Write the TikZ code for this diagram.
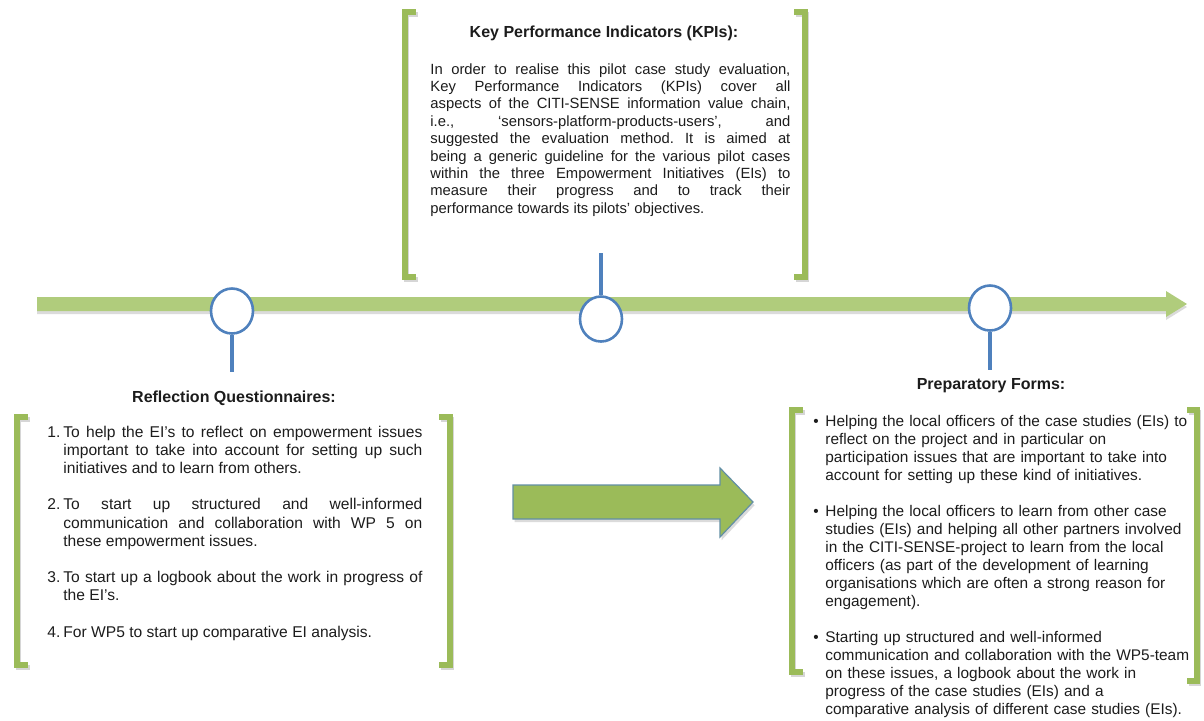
\documentclass[tikz,border=0pt]{standalone}
\usepackage{fontspec}
\setmainfont{Liberation Sans}
\usetikzlibrary{shapes.geometric}

\definecolor{barGreen}{RGB}{176,204,124}
\definecolor{brGreen}{RGB}{155,187,89}
\definecolor{pinBlue}{RGB}{79,129,189}
\definecolor{inkGrey}{RGB}{28,28,28}

% paragraph set-up used inside the text blocks
\newcommand{\blocksetup}[1]{\frenchspacing\hyphenpenalty=10000\exhyphenpenalty=10000\setlength{\parskip}{#1}}

\begin{document}
\begin{tikzpicture}[x=0.5pt,y=-0.5pt,
  bracket/.style={draw=brGreen, line width=2.6pt,
    preaction={draw=black!16, line width=2.6pt, transform canvas={xshift=0.8pt, yshift=-1.4pt}}},
  pin/.style={draw=pinBlue, line width=2pt},
  milestone/.style={ellipse, draw=pinBlue, line width=1.3pt, fill=white,
    minimum width=21pt, minimum height=22.5pt, inner sep=0pt},
  heading/.style={font=\fontsize{8}{9.6}\selectfont\bfseries, text=inkGrey, inner sep=0pt, anchor=base},
  kpitext/.style={font=\fontsize{7.4}{8.7}\selectfont, text=inkGrey, text width=180pt, align=justify, inner sep=0pt, anchor=base west},
  listtext/.style={font=\fontsize{7.8}{9.1}\selectfont, text=inkGrey, text width=187.5pt, align=justify, inner sep=0pt, anchor=base west},
  bullettext/.style={font=\fontsize{7.7}{9}\selectfont, text=inkGrey, text width=194pt, inner sep=0pt, anchor=base west},
]
\useasboundingbox (0,0) rectangle (1204,720);

% timeline bar with its head
\fill[barGreen, preaction={fill=black!14, transform canvas={yshift=-1.5pt}}]
  (37,297) -- (1166,297) -- (1166,291) -- (1187,304) -- (1166,317) -- (1166,311) -- (37,311) -- cycle;

% milestones on the timeline
\node[milestone] (c1) at (232,311) {};
\node[milestone] (c2) at (601,319) {};
\node[milestone] (c3) at (990,308) {};

\coordinate (p1) at (232,372);
\coordinate (p2) at (601,253);
\coordinate (p3) at (990,370);
\draw[pin] (c1.south) -- (p1);
\draw[pin] (c2.north) -- (p2);
\draw[pin] (c3.south) -- (p3);

% brackets
\draw[bracket] (416,12) -- (405,12) -- (405,277) -- (416,277);
\draw[bracket] (794,12) -- (805,12) -- (805,277) -- (794,277);
\draw[bracket] (28,417) -- (17,417) -- (17,665) -- (28,665);
\draw[bracket] (439,417) -- (450,417) -- (450,665) -- (439,665);
\draw[bracket] (803,410) -- (792,410) -- (792,672) -- (803,672);
\draw[bracket] (1187,410) -- (1197,410) -- (1197,681) -- (1187,681);

% block arrow between the two lower boxes
\filldraw[fill=brGreen, draw=pinBlue!75!brGreen, line width=0.6pt,
  preaction={fill=black!14, transform canvas={xshift=0.8pt, yshift=-1.6pt}}]
  (513,485) -- (720,485) -- (720,468) -- (753,502) -- (720,537) -- (720,519) -- (513,519) -- cycle;

% Key Performance Indicators
\node[heading] (kpiT) at (604,37) {Key Performance Indicators (KPIs):};
\node[kpitext] (kpiB) at (430,74) {\blocksetup{0pt}%
In order to realise this pilot case study evaluation,\linebreak
Key Performance Indicators (KPIs) cover all\linebreak
aspects of the CITI-SENSE information value chain,\linebreak
i.e., ‘sensors-platform-products-users’, and\linebreak
suggested the evaluation method. It is aimed at\linebreak
being a generic guideline for the various pilot cases\linebreak
within the three Empowerment Initiatives (EIs) to\linebreak
measure their progress and to track their\linebreak
performance towards its pilots’ objectives.\par};

% Reflection Questionnaires
\node[heading] (rqT) at (234,402) {Reflection Questionnaires:};
\node[listtext] (rqB) at (47,437) {\blocksetup{9.1pt}%
\hangindent=8pt\hangafter=1\makebox[8pt][l]{1.}To help the EI’s to reflect on empowerment issues\linebreak
important to take into account for setting up such\linebreak
initiatives and to learn from others.\par
\hangindent=8pt\hangafter=1\makebox[8pt][l]{2.}To start up structured and well-informed\linebreak
communication and collaboration with WP 5 on\linebreak
these empowerment issues.\par
\hangindent=8pt\hangafter=1\makebox[8pt][l]{3.}To start up a logbook about the work in progress of\linebreak
the EI’s.\par
\hangindent=8pt\hangafter=1\makebox[8pt][l]{4.}For WP5 to start up comparative EI analysis.\par};

% Preparatory Forms
\node[heading] (pfT) at (991,389) {Preparatory Forms:};
\node[bullettext] (pfB) at (813,426) {\blocksetup{9pt}%
\hangindent=6pt\hangafter=1\makebox[6pt][l]{•}Helping the local officers of the case studies (EIs) to\newline
reflect on the project and in particular on\newline
participation issues that are important to take into\newline
account for setting up these kind of initiatives.\par
\hangindent=6pt\hangafter=1\makebox[6pt][l]{•}Helping the local officers to learn from other case\newline
studies (EIs) and helping all other partners involved\newline
in the CITI-SENSE-project to learn from the local\newline
officers (as part of the development of learning\newline
organisations which are often a strong reason for\newline
engagement).\par
\hangindent=6pt\hangafter=1\makebox[6pt][l]{•}Starting up structured and well-informed\newline
communication and collaboration with the WP5-team\newline
on these issues, a logbook about the work in\newline
progress of the case studies (EIs) and a\newline
comparative analysis of different case studies (EIs).\par};
\end{tikzpicture}
\end{document}
